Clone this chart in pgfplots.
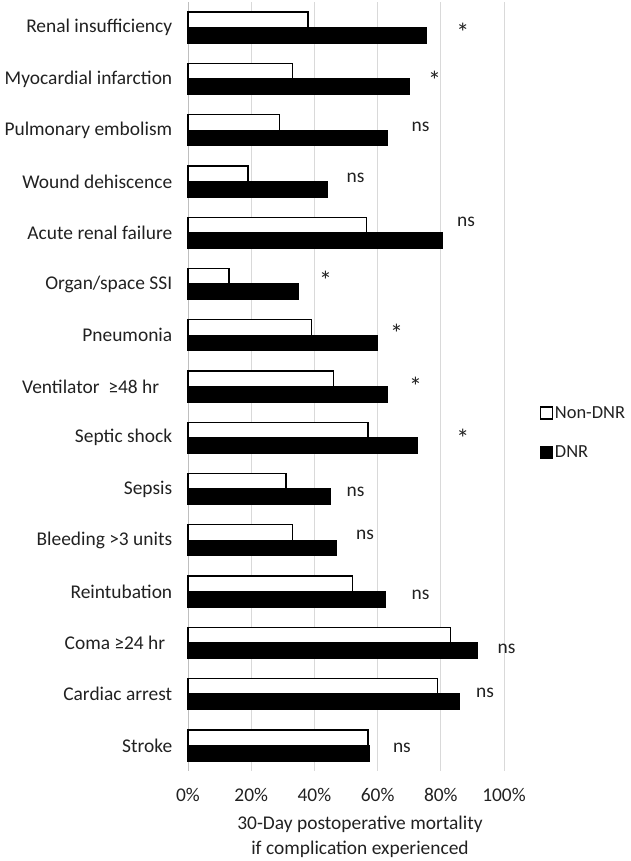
\documentclass[border=0pt]{standalone}
\usepackage{fontspec}
\setmainfont{Carlito}
\usepackage{pgfplots}
\usepackage{pgfplotstable}
\pgfplotsset{compat=1.18}

% category index (0 = top), mortality in percent
\pgfplotstableread{
idx nondnr dnr
0   38   75.5
1   33   70
2   29   63
3   19   44
4   56.5 80.4
5   13   35
6   39   60
7   46   63
8   57   72.5
9   31   45
10  33   47
11  52   62.3
12  83   91.5
13  79   86
14  57   57.4
}\mortality

\definecolor{txt}{gray}{0.13}
\definecolor{gridc}{gray}{0.85}
\definecolor{axc}{gray}{0.75}

\newcommand{\lbl}{\fontsize{19.5}{25}\selectfont\color{txt}}
\newcommand{\sig}{{\fontsize{26}{28}\selectfont *}}

\begin{document}
\begin{tikzpicture}[font=\lbl]
\begin{axis}[
    scale only axis,
    width=316bp, height=769bp,
    xbar, bar width=15.5bp,
    y dir=reverse,
    xmin=0, xmax=100,
    ymin=-0.5, ymax=14.5,
    axis lines*=left,
    x axis line style={draw=none},
    y axis line style={draw=axc, line width=0.8bp},
    xtick={0,20,40,60,80,100},
    xticklabels={0\%,20\%,40\%,60\%,80\%,100\%},
    xtick style={draw=none},
    xmajorgrids,
    grid style={draw=gridc, line width=0.9bp},
    ytick={0,...,14},
    yticklabels={Renal insufficiency, Myocardial infarction, Pulmonary embolism,
        Wound dehiscence, Acute renal failure, Organ/space SSI, Pneumonia,
        Ventilator\ \ ≥48 hr\hspace{13bp}, Septic shock, Sepsis, Bleeding >3 units,
        Reintubation, Coma ≥24 hr\hspace{7bp}, Cardiac arrest, Stroke},
    ytick style={draw=none},
    minor ytick={-0.5,0.5,...,14.5},
    minor tick length=6bp,
    tick align=outside,
    minor tick style={draw=axc, line width=0.8bp},
    yticklabel style={xshift=-8bp, align=right},
    xticklabel style={yshift=-9bp},
    xlabel={30-Day postoperative mortality\\if complication experienced},
    xlabel style={align=center, xshift=14bp, yshift=-8bp},
    legend style={at={(1.114,0.477)}, anchor=north west, draw=none, fill=none,
        row sep=22bp, inner sep=0pt, font=\fontsize{18.5}{22}\selectfont\color{txt},
        nodes={inner xsep=1.5bp}},
    legend cell align=left,
    legend image code/.code={\draw[#1, line width=1.2bp] (0bp,-6bp) rectangle (12bp,6bp);},
    clip=false,
]
\addplot[draw=black, fill=white, line width=1.3bp, bar shift=7.75bp] table[x=nondnr, y=idx] {\mortality};
\addplot[draw=black, fill=black, line width=1.3bp, bar shift=-7.75bp] table[x=dnr, y=idx] {\mortality};
\legend{Non-DNR, DNR}

% significance marks
\node[yshift=-5bp] at (axis cs:87,0) {\sig};
\node[yshift=-5bp] at (axis cs:78,0.93) {\sig};
\node at (axis cs:73.6,1.93) {ns};
\node at (axis cs:53,2.93) {ns};
\node at (axis cs:88,3.79) {ns};
\node[yshift=-5bp] at (axis cs:43.5,4.83) {\sig};
\node[yshift=-5bp] at (axis cs:66,5.86) {\sig};
\node[yshift=-5bp] at (axis cs:72,6.89) {\sig};
\node[yshift=-5bp] at (axis cs:87,7.92) {\sig};
\node at (axis cs:53,9.05) {ns};
\node at (axis cs:56,9.89) {ns};
\node at (axis cs:73.6,11.06) {ns};
\node at (axis cs:100.8,12.12) {ns};
\node at (axis cs:94,12.97) {ns};
\node at (axis cs:67.7,14.04) {ns};
\end{axis}
\pgfresetboundingbox
\path[use as bounding box] (-188bp,-90bp) rectangle (443bp,771bp);
\end{tikzpicture}
\end{document}
